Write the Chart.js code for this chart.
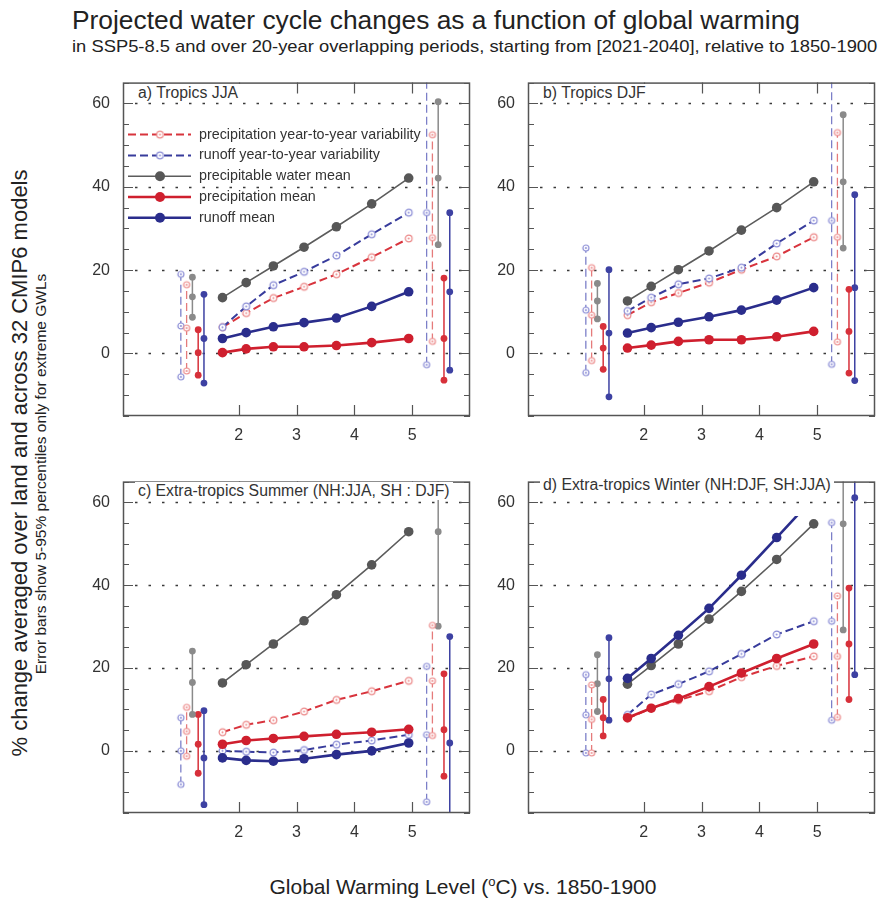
<!DOCTYPE html>
<html>
<head>
<meta charset="utf-8">
<script src="https://cdn.jsdelivr.net/npm/chart.js@4.4.1/dist/chart.umd.min.js"></script>
<style>
  body { margin: 0; background: #fff; }
  #page { position: relative; width: 882px; height: 901px; overflow: hidden;
    font-family: "Liberation Sans", Arial, Helvetica, sans-serif; color: #222; }
  #page canvas { position: absolute; }
  .txt { position: absolute; white-space: nowrap; }
  .title { left: 72px; top: 5px; font-size: 25px; line-height: 30px; transform: scaleX(1.054); transform-origin: 0 50%; }
  .subtitle { left: 72px; top: 36px; font-size: 17px; line-height: 22px; transform: scaleX(1.08); transform-origin: 0 50%; }
  .panel-title { font-size: 15.8px; line-height: 18px; color: #333; background: #fff; padding: 0 3px; }
  .rot { transform: translate(-50%, -50%) rotate(-90deg); }
  .ytitle { left: 20px; top: 463px; font-size: 22px; }
  .ytitle2 { left: 41px; top: 474px; font-size: 15.5px; }
  .xtitle { left: 463px; top: 886px; font-size: 21px; transform: translate(-50%, -50%); }
  .xtitle sup { font-size: 13px; }
</style>
</head>
<body>
<div id="page">
  <div class="txt title">Projected water cycle changes as a function of global warming</div>
  <div class="txt subtitle">in SSP5-8.5 and over 20-year overlapping periods, starting from [2021-2040], relative to 1850-1900</div>
  <div class="txt rot ytitle">% change averaged over land and across 32 CMIP6 models</div>
  <div class="txt rot ytitle2">Error bars show 5-95% percentiles only for extreme GWLs</div>
  <div class="txt xtitle">Global Warming Level (<sup>o</sup>C) vs. 1850-1900</div>
</div>
<script>
// x positions (global warming level, degC)
const gwl = [1.72, 2.13, 2.60, 3.13, 3.69, 4.30, 4.94];
// error bar x positions, legend order: precip var, runoff var, water, precip mean, runoff mean
const lowBarX = [1.1, 1.0, 1.2, 1.3, 1.4];
const highBarX = [5.35, 5.25, 5.45, 5.55, 5.65];
const yTicks = [0, 20, 40, 60];
const xTicks = [2, 3, 4, 5];
const seriesNames = [
  "precipitation year-to-year variability",
  "runoff year-to-year variability",
  "precipitable water mean",
  "precipitation mean",
  "runoff mean",
];

// a) Tropics JJA
const aPrecipVar = [6.3, 9.7, 13.3, 16.0, 19.0, 23.1, 27.6];
const aRunoffVar = [6.3, 11.3, 16.4, 19.6, 23.5, 28.6, 33.8];
const aWaterMean = [13.4, 17.0, 21.0, 25.5, 30.4, 35.9, 42.1];
const aPrecipMean = [0.2, 1.1, 1.6, 1.6, 1.9, 2.6, 3.6];
const aRunoffMean = [3.6, 5.0, 6.4, 7.4, 8.5, 11.3, 14.8];
// [low, mid, high] per series
const aLowBars = [[-4.2, 6.1, 16.5], [-5.6, 6.6, 19.0], [8.7, 13.6, 18.3], [-5.2, 0.2, 5.7], [-7.1, 3.6, 14.2]];
const aHighBars = [[2.9, 27.8, 52.5], [-2.7, 33.8, 80], [26.1, 42.1, 60.4], [-6.4, 3.6, 18.1], [-4.0, 14.8, 33.8]];

// b) Tropics DJF
const bPrecipVar = [9.2, 12.3, 14.5, 17.0, 20.1, 23.3, 27.9];
const bRunoffVar = [10.2, 13.4, 16.6, 18.0, 20.6, 26.4, 31.9];
const bWaterMean = [12.6, 16.1, 20.1, 24.6, 29.6, 35.0, 41.2];
const bPrecipMean = [1.3, 2.0, 2.9, 3.3, 3.3, 4.0, 5.3];
const bRunoffMean = [4.9, 6.2, 7.5, 8.8, 10.4, 12.8, 15.8];
const bLowBars = [[-1.7, 9.2, 20.6], [-4.6, 10.4, 25.3], [8.3, 12.6, 16.8], [-3.8, 1.3, 6.5], [-10.4, 4.9, 20.1]];
const bHighBars = [[2.8, 27.9, 53.0], [-2.6, 31.9, 80], [25.3, 41.2, 57.3], [-4.7, 5.3, 15.4], [-6.5, 15.8, 38.1]];

// c) Extra-tropics Summer
const cPrecipVar = [4.5, 6.3, 7.4, 9.5, 12.3, 14.4, 16.9];
const cRunoffVar = [0.0, -0.2, -0.4, 0.2, 1.5, 2.5, 3.9];
const cWaterMean = [16.4, 20.8, 25.8, 31.4, 37.7, 44.9, 52.9];
const cPrecipMean = [1.6, 2.5, 3.0, 3.5, 4.0, 4.5, 5.2];
const cRunoffMean = [-1.7, -2.3, -2.5, -1.9, -0.9, 0.0, 1.9];
const cLowBars = [[-1.3, 4.7, 10.5], [-8.1, 0.0, 8.0], [8.8, 16.5, 24.1], [-5.4, 1.6, 8.8], [-13.0, -1.7, 9.7]];
const cHighBars = [[3.7, 16.9, 30.3], [-12.3, 3.9, 20.4], [30.1, 52.9, 80], [-6.1, 5.1, 18.6], [-20, 1.9, 27.6]];

// d) Extra-tropics Winter
const dPrecipVar = [7.8, 10.3, 12.2, 14.4, 17.8, 20.5, 22.8];
const dRunoffVar = [8.7, 13.6, 16.1, 19.2, 23.4, 28.1, 31.3];
const dWaterMean = [16.1, 20.6, 25.8, 31.8, 38.5, 46.2, 54.8];
const dPrecipMean = [8.0, 10.3, 12.6, 15.5, 18.8, 22.3, 25.8];
const dRunoffMean = [17.5, 22.3, 27.9, 34.4, 42.4, 51.5, 61.1];
const dLowBars = [[-0.5, 7.6, 15.9], [-0.5, 8.7, 18.4], [9.5, 16.2, 23.2], [3.6, 8.0, 12.4], [7.4, 17.4, 27.3]];
const dHighBars = [[8.1, 22.8, 37.4], [7.4, 31.3, 55.1], [29.2, 54.8, 80], [12.4, 25.8, 39.3], [18.4, 61.1, 80]];

// styles, legend order
const looks = [
  { line: "#d8343d", mark: "#ec8a8a", bar: "#e57b7b", dash: [8, 4], width: 2, open: true },
  { line: "#383c9c", mark: "#8c8ed6", bar: "#7c7fc8", dash: [8, 4], width: 2, open: true },
  { line: "#5c5c5c", mark: "#575757", bar: "#8a8a8a", dash: [], width: 1.6, open: false },
  { line: "#cf1f2e", mark: "#cf1f2e", bar: "#d7303a", dash: [], width: 2.6, open: false },
  { line: "#2a2d8c", mark: "#2a2d8c", bar: "#3d41a2", dash: [], width: 2.6, open: false },
];

const panels = [
  { title: "a) Tropics JJA", left: 123, top: 70, h: 346, titleY: 84,
    series: [aPrecipVar, aRunoffVar, aWaterMean, aPrecipMean, aRunoffMean], low: aLowBars, high: aHighBars, legend: true },
  { title: "b) Tropics DJF", left: 528, top: 70, h: 346, titleY: 84,
    series: [bPrecipVar, bRunoffVar, bWaterMean, bPrecipMean, bRunoffMean], low: bLowBars, high: bHighBars },
  { title: "c) Extra-tropics Summer (NH:JJA, SH : DJF)", left: 123, top: 469, h: 344, titleY: 482,
    series: [cPrecipVar, cRunoffVar, cWaterMean, cPrecipMean, cRunoffMean], low: cLowBars, high: cHighBars },
  { title: "d) Extra-tropics Winter (NH:DJF, SH:JJA)", left: 528, top: 469, h: 344, titleY: 476,
    series: [dPrecipVar, dRunoffVar, dWaterMean, dPrecipMean, dRunoffMean], low: dLowBars, high: dHighBars,
    clip: { 4: 56.7 } },
];

const FRAME_W = 347;
const AXIS_W = 70;
const AXIS_H = 40;
const PAD = 10;

function ringMarker(color, r) {
  const c = document.createElement("canvas");
  const s = Math.ceil(r * 2 + 4);
  c.width = c.height = s;
  const g = c.getContext("2d");
  g.beginPath();
  g.arc(s / 2, s / 2, r, 0, Math.PI * 2);
  g.fillStyle = "#fff";
  g.fill();
  g.strokeStyle = color;
  g.lineWidth = 1.2;
  g.stroke();
  g.beginPath();
  g.arc(s / 2, s / 2, 1, 0, Math.PI * 2);
  g.fillStyle = color;
  g.fill();
  return c;
}

function pointStyleFor(look, r) {
  return look.open ? ringMarker(look.mark, r) : "circle";
}

// dotted grid, frame and inward ticks
const panelDecor = {
  id: "panelDecor",
  beforeDatasetsDraw(chart) {
    const { ctx, chartArea: a, scales: { y } } = chart;
    ctx.save();
    ctx.strokeStyle = "#3a3a3a";
    ctx.lineWidth = 1.5;
    ctx.setLineDash([2.5, 11]);
    yTicks.forEach((v) => {
      const py = Math.round(y.getPixelForValue(v)) + 0.5;
      ctx.beginPath();
      ctx.moveTo(a.left + 12, py);
      ctx.lineTo(a.right, py);
      ctx.stroke();
    });
    ctx.restore();
  },
  afterDatasetsDraw(chart) {
    const { ctx, chartArea: a, scales: { x, y } } = chart;
    ctx.save();
    ctx.strokeStyle = "#555";
    ctx.lineWidth = 1.5;
    ctx.strokeRect(a.left + 0.5, a.top + 0.5, a.width - 1, a.height - 1);
    ctx.lineWidth = 1.2;
    ctx.beginPath();
    for (let v = -15; v <= 65; v += 5) {
      const py = Math.round(y.getPixelForValue(v)) + 0.5;
      const len = v % 20 === 0 ? 10 : 6;
      ctx.moveTo(a.left, py);
      ctx.lineTo(a.left + len, py);
      ctx.moveTo(a.right, py);
      ctx.lineTo(a.right - len, py);
    }
    xTicks.forEach((v) => {
      const px = Math.round(x.getPixelForValue(v)) + 0.5;
      ctx.moveTo(px, a.bottom);
      ctx.lineTo(px, a.bottom - 11);
      ctx.moveTo(px, a.top);
      ctx.lineTo(px, a.top + 11);
    });
    ctx.stroke();
    ctx.restore();
  },
};

// clip a dataset above a given value
const clipTop = {
  id: "clipTop",
  beforeDatasetDraw(chart, args) {
    const top = chart.data.datasets[args.index].clipTop;
    if (top === undefined) return;
    const { ctx, chartArea: a } = chart;
    ctx.save();
    ctx.beginPath();
    const py = chart.scales.y.getPixelForValue(top);
    ctx.rect(a.left, py, a.width, a.bottom - py);
    ctx.clip();
  },
  afterDatasetDraw(chart, args) {
    if (chart.data.datasets[args.index].clipTop !== undefined) chart.ctx.restore();
  },
};

// legend drawn inside panel a
const insideLegend = {
  id: "insideLegend",
  afterDatasetsDraw(chart, args, opts) {
    if (!opts.show) return;
    const { ctx, chartArea: a } = chart;
    ctx.save();
    seriesNames.forEach((name, i) => {
      const look = looks[i];
      const yy = a.top + 52 + i * 20.8;
      ctx.strokeStyle = look.line;
      ctx.lineWidth = look.width;
      ctx.setLineDash(look.dash);
      ctx.beginPath();
      ctx.moveTo(a.left + 5, yy);
      ctx.lineTo(a.left + 68, yy);
      ctx.stroke();
      ctx.setLineDash([]);
      if (look.open) {
        const m = ringMarker(look.mark, 3.3);
        ctx.drawImage(m, a.left + 37 - m.width / 2, yy - m.height / 2);
      } else {
        ctx.fillStyle = look.mark;
        ctx.beginPath();
        ctx.arc(a.left + 37, yy, 5, 0, Math.PI * 2);
        ctx.fill();
      }
      ctx.fillStyle = "#333";
      ctx.font = '14.3px "Liberation Sans", Arial, sans-serif';
      ctx.textBaseline = "middle";
      ctx.fillText(name, a.left + 76, yy);
    });
    ctx.restore();
  },
};

function buildDatasets(p) {
  const lines = [];
  const bars = [];
  p.series.forEach((vals, i) => {
    const look = looks[i];
    const ds = {
      data: gwl.map((g, k) => ({ x: g, y: vals[k] })),
      borderColor: look.line,
      borderWidth: look.width,
      borderDash: look.dash,
      pointStyle: pointStyleFor(look, 3.4),
      pointRadius: look.open ? 3.4 : 4.8,
      pointBackgroundColor: look.mark,
      pointBorderColor: look.mark,
      pointBorderWidth: 0,
      tension: 0,
    };
    if (p.clip && p.clip[i] !== undefined) ds.clipTop = p.clip[i];
    lines.push(ds);
    [[lowBarX, p.low], [highBarX, p.high]].forEach(([xs, triples]) => {
      bars.push({
        data: triples[i].map((v) => ({ x: xs[i], y: v })),
        borderColor: look.bar,
        borderWidth: look.open ? 1.3 : 1.5,
        borderDash: look.open ? [8, 4] : [],
        pointStyle: pointStyleFor(look, 3),
        pointRadius: look.open ? 3 : 3.4,
        pointBackgroundColor: look.open ? look.mark : look.bar,
        pointBorderColor: look.open ? look.mark : look.bar,
        pointBorderWidth: 0,
      });
    });
  });
  // means on top, then variability lines, then error bars
  return [lines[4], lines[3], lines[2], lines[1], lines[0], ...bars];
}

const page = document.getElementById("page");
const tickFont = { family: '"Liberation Sans", Arial, sans-serif', size: 16 };

panels.forEach((p) => {
  const canvas = document.createElement("canvas");
  canvas.width = FRAME_W + AXIS_W + PAD;
  canvas.height = p.h + PAD + AXIS_H;
  canvas.style.left = p.left - AXIS_W + "px";
  canvas.style.top = p.top - PAD + "px";
  page.appendChild(canvas);

  new Chart(canvas, {
    type: "line",
    data: { datasets: buildDatasets(p) },
    options: {
      responsive: false,
      animation: false,
      events: [],
      layout: { padding: { top: PAD, right: PAD, left: 0, bottom: 0 } },
      plugins: {
        legend: { display: false },
        tooltip: { enabled: false },
        insideLegend: { show: !!p.legend },
      },
      scales: {
        x: {
          type: "linear",
          min: 0,
          max: 6,
          grid: { display: false, drawTicks: false },
          border: { display: false },
          afterBuildTicks: (s) => { s.ticks = xTicks.map((v) => ({ value: v })); },
          afterFit: (s) => { s.height = AXIS_H; },
          ticks: { font: tickFont, color: "#333", padding: 10, maxRotation: 0, autoSkip: false },
        },
        y: {
          type: "linear",
          min: -15,
          max: 65,
          grid: { display: false, drawTicks: false },
          border: { display: false },
          afterBuildTicks: (s) => { s.ticks = yTicks.map((v) => ({ value: v })); },
          afterFit: (s) => { s.width = AXIS_W; },
          ticks: { font: tickFont, color: "#333", padding: 13 },
        },
      },
    },
    plugins: [panelDecor, clipTop, insideLegend],
  });

  const t = document.createElement("div");
  t.className = "txt panel-title";
  t.textContent = p.title;
  t.style.left = p.left + 12 + "px";
  t.style.top = p.titleY + "px";
  page.appendChild(t);
});
</script>
</body>
</html>
